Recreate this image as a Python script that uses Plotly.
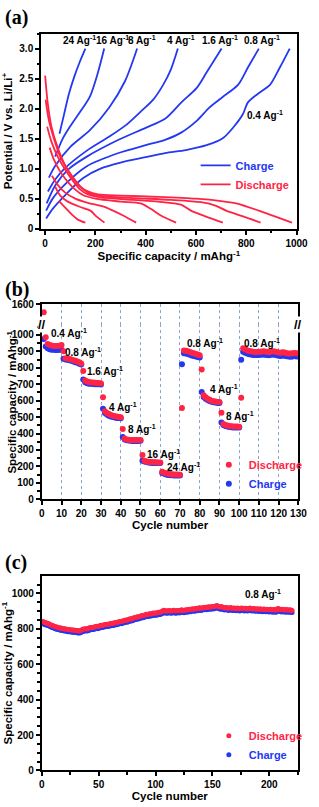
import plotly.graph_objects as go

BLUE = "#2438f2"
RED = "#ff2446"
FONT = "Liberation Sans"

# ---------------- (a) charge / discharge profiles ----------------
rate_labels = ["0.4", "0.8", "1.6", "4", "8", "16", "24"]

chg_x_0p4 = [4, 30, 80, 150, 220, 300, 400, 477, 560, 642, 705, 749, 787, 806, 844, 895, 933, 973]
chg_v_0p4 = [0.17, 0.33, 0.56, 0.84, 1.0, 1.1, 1.19, 1.26, 1.31, 1.39, 1.5, 1.69, 1.91, 2.1, 2.24, 2.4, 2.68, 3.0]
chg_x_0p8 = [4, 30, 80, 166, 292, 400, 477, 541, 604, 654, 705, 768, 806, 850]
chg_v_0p8 = [0.3, 0.5, 0.74, 1.04, 1.26, 1.39, 1.48, 1.6, 1.8, 2.02, 2.19, 2.4, 2.68, 3.0]
chg_x_1p6 = [6, 40, 90, 166, 292, 400, 477, 541, 604, 642, 702]
chg_v_1p6 = [0.42, 0.72, 0.98, 1.2, 1.48, 1.68, 1.83, 2.1, 2.35, 2.6, 3.0]
chg_x_4 = [11, 40, 77, 166, 254, 320, 380, 430, 470, 500, 528]
chg_v_4 = [0.62, 0.82, 1.0, 1.3, 1.53, 1.72, 1.95, 2.15, 2.4, 2.65, 3.0]
chg_x_8 = [15, 39, 102, 178, 255, 318, 366]
chg_v_8 = [0.85, 1.04, 1.37, 1.64, 2.02, 2.46, 3.0]
chg_x_16 = [40, 70, 102, 140, 178, 210, 235]
chg_v_16 = [1.2, 1.5, 1.72, 1.95, 2.2, 2.6, 3.0]
chg_x_24 = [57, 75, 95, 115, 138, 160]
chg_v_24 = [1.58, 1.9, 2.25, 2.52, 2.78, 3.0]

dis_x_0p4 = [0, 10, 25, 50, 80, 110, 140, 170, 210, 300, 450, 600, 700, 760, 850, 930, 982]
dis_v_0p4 = [2.55, 2.1, 1.7, 1.35, 1.05, 0.85, 0.7, 0.62, 0.57, 0.55, 0.53, 0.5, 0.46, 0.42, 0.3, 0.18, 0.1]
dis_x_0p8 = [2, 15, 35, 60, 90, 120, 150, 180, 230, 350, 500, 620, 680, 720, 790, 857]
dis_v_0p8 = [2.15, 1.8, 1.5, 1.2, 0.98, 0.8, 0.66, 0.58, 0.54, 0.51, 0.48, 0.44, 0.38, 0.3, 0.2, 0.1]
dis_x_1p6 = [8, 25, 50, 80, 110, 140, 170, 220, 350, 450, 540, 580, 640, 707]
dis_v_1p6 = [1.7, 1.45, 1.2, 0.98, 0.8, 0.65, 0.57, 0.52, 0.48, 0.45, 0.4, 0.3, 0.2, 0.1]
dis_x_4 = [18, 35, 60, 90, 120, 150, 200, 300, 380, 420, 460, 521]
dis_v_4 = [1.35, 1.15, 0.95, 0.78, 0.65, 0.56, 0.5, 0.45, 0.42, 0.33, 0.22, 0.1]
dis_x_8 = [27, 50, 80, 120, 170, 230, 270, 310, 362]
dis_v_8 = [0.88, 0.73, 0.6, 0.5, 0.43, 0.37, 0.3, 0.22, 0.1]
dis_x_16 = [40, 60, 90, 140, 180, 205, 236]
dis_v_16 = [0.7, 0.55, 0.45, 0.36, 0.3, 0.2, 0.1]
dis_x_24 = [55, 80, 110, 130, 160]
dis_v_24 = [0.46, 0.35, 0.22, 0.15, 0.1]

label_a_x = [874, 861, 694, 542, 385, 268, 138]
label_a_v = [1.90, 3.14, 3.14, 3.14, 3.14, 3.14, 3.14]

# ---------------- (b) rate capability ----------------
cycles_b = list(range(1, 131))
dis_b = [1540,
         985, 945, 938, 935, 933, 932, 932, 934, 938,
         900, 858, 856, 853, 850, 846, 842, 838, 833, 826,
         780, 722, 716, 713, 711, 710, 709, 708, 707, 704,
         620, 535, 525, 518, 512, 508, 505, 503, 501, 499,
         428, 370, 364, 362, 361, 360, 360, 360, 360, 361,
         270, 234, 230, 228, 227, 226, 225, 225, 224, 224,
         168, 162, 158, 155, 154, 152, 151, 150, 150, 149,
         555, 905, 903, 900, 896, 892, 888, 884, 880, 876,
         790, 632, 620, 612, 605, 600, 596, 594, 592, 591,
         527, 458, 452, 448, 446, 444, 443, 442, 442, 441,
         618, 918, 912, 906, 902, 900, 898, 896, 896, 897,
         898, 900, 899, 897, 895, 898, 900, 899, 896, 893,
         892, 895, 893, 889, 887, 886, 888, 890, 888, 887]
chg_b = [975,
         930, 918, 912, 910, 909, 908, 908, 909, 910,
         855, 850, 848, 845, 842, 838, 834, 830, 825, 820,
         728, 712, 706, 703, 702, 701, 700, 700, 699, 698,
         550, 525, 515, 508, 503, 500, 497, 495, 494, 493,
         378, 364, 359, 357, 356, 355, 355, 355, 355, 356,
         235, 229, 226, 224, 222, 221, 221, 220, 220, 220,
         160, 155, 150, 147, 146, 146, 145, 145, 145, 145,
         822, 888, 886, 883, 879, 875, 871, 868, 865, 862,
         652, 622, 612, 604, 598, 593, 590, 588, 586, 585,
         467, 452, 446, 442, 440, 438, 437, 437, 437, 436,
         848, 898, 892, 886, 882, 880, 878, 877, 877, 878,
         879, 880, 879, 877, 876, 879, 880, 879, 876, 873,
         872, 875, 873, 870, 868, 867, 869, 871, 869, 868]
label_b_text = ["0.4", "0.8", "1.6", "4", "8", "16", "24", "0.8", "4", "8", "0.8"]
label_b_x = [3.5, 10.8, 21.9, 33, 42.5, 52.5, 62.5, 72.5, 84.2, 92.3, 101.4]
label_b_y = [1012, 898, 783, 563, 427, 278, 194, 952, 673, 509, 952]

# ---------------- (c) long cycling ----------------
dis_c = [842, 838, 836, 833, 832, 829, 826, 822, 820, 818,
         815, 812, 810, 809, 806, 805, 804, 802, 801, 800,
         799, 798, 796, 796, 795, 794, 793, 793, 792, 791,
         790, 789, 788, 790, 794, 797, 799, 800, 801, 799,
         803, 806, 807, 808, 808, 810, 812, 814, 813, 815,
         817, 820, 819, 821, 823, 824, 826, 825, 827, 829,
         830, 832, 831, 834, 836, 835, 838, 840, 842, 841,
         844, 846, 848, 850, 849, 852, 855, 857, 856, 859,
         862, 864, 866, 868, 867, 870, 873, 875, 874, 877,
         880, 882, 881, 883, 885, 884, 887, 889, 888, 890,
         889, 892, 894, 893, 896, 899, 905, 903, 901, 900,
         902, 904, 901, 900, 903, 905, 902, 900, 903, 904,
         902, 905, 907, 904, 903, 906, 908, 906, 909, 911,
         909, 912, 914, 911, 913, 916, 914, 917, 919, 916,
         918, 921, 919, 922, 920, 923, 925, 922, 924, 926,
         924, 927, 929, 932, 928, 925, 923, 926, 922, 920,
         918, 921, 919, 916, 918, 920, 917, 915, 918, 916,
         914, 917, 915, 913, 916, 918, 915, 913, 916, 914,
         912, 915, 917, 914, 912, 915, 913, 911, 914, 912,
         910, 913, 911, 909, 912, 910, 908, 911, 909, 907,
         910, 908, 906, 909, 907, 905, 913, 915, 911, 909,
         907, 910, 908, 906, 909, 907, 905, 908, 906, 904]
chg_c = [830, 826, 823, 821, 820, 817, 814, 811, 808, 806,
         803, 801, 798, 797, 795, 793, 792, 790, 789, 788,
         787, 786, 784, 784, 783, 782, 781, 781, 780, 779,
         778, 777, 776, 778, 782, 785, 787, 788, 789, 788,
         791, 794, 795, 796, 796, 798, 800, 802, 801, 803,
         805, 808, 807, 809, 811, 812, 814, 813, 815, 817,
         818, 820, 819, 822, 824, 823, 826, 828, 830, 829,
         832, 834, 836, 838, 837, 840, 843, 845, 844, 847,
         850, 852, 854, 856, 855, 858, 861, 863, 862, 865,
         868, 870, 869, 871, 873, 872, 875, 877, 876, 878,
         877, 880, 882, 881, 884, 887, 893, 891, 889, 888,
         890, 892, 889, 888, 891, 893, 890, 888, 891, 892,
         890, 893, 895, 892, 891, 894, 896, 894, 897, 899,
         897, 900, 902, 899, 901, 904, 902, 905, 907, 904,
         906, 909, 907, 910, 908, 911, 913, 910, 912, 914,
         912, 915, 917, 919, 916, 913, 911, 914, 910, 908,
         906, 909, 907, 904, 906, 908, 905, 903, 906, 904,
         902, 905, 903, 901, 904, 906, 903, 901, 904, 902,
         900, 903, 905, 902, 900, 903, 901, 899, 902, 900,
         898, 901, 899, 897, 900, 898, 896, 899, 897, 895,
         898, 896, 894, 897, 895, 893, 900, 902, 899, 897,
         895, 898, 896, 894, 897, 895, 893, 896, 894, 892]
cycles_c = list(range(1, len(dis_c) + 1))

# ---------------- figure ----------------
W, H = 319, 807
def px(v):
    return v / W
def py(v):
    return 1 - v / H
def bold(vals):
    return ["<b>%s</b>" % v for v in vals]

fig = go.Figure()

chg_sets = [(chg_x_0p4, chg_v_0p4), (chg_x_0p8, chg_v_0p8), (chg_x_1p6, chg_v_1p6),
            (chg_x_4, chg_v_4), (chg_x_8, chg_v_8), (chg_x_16, chg_v_16), (chg_x_24, chg_v_24)]
dis_sets = [(dis_x_0p4, dis_v_0p4), (dis_x_0p8, dis_v_0p8), (dis_x_1p6, dis_v_1p6),
            (dis_x_4, dis_v_4), (dis_x_8, dis_v_8), (dis_x_16, dis_v_16), (dis_x_24, dis_v_24)]

for i, (xs, vs) in enumerate(chg_sets):
    fig.add_trace(go.Scatter(x=xs, y=vs, mode="lines", xaxis="x", yaxis="y",
                             line=dict(color=BLUE, width=1.8, shape="spline", smoothing=0.8),
                             name="<b><span style='color:%s'>Charge</span></b>" % BLUE,
                             legendgroup="ch", showlegend=(i == 0), legend="legend"))
for i, (xs, vs) in enumerate(dis_sets):
    fig.add_trace(go.Scatter(x=xs, y=vs, mode="lines", xaxis="x", yaxis="y",
                             line=dict(color=RED, width=1.8, shape="spline", smoothing=0.8),
                             name="<b><span style='color:%s'>Discharge</span></b>" % RED,
                             legendgroup="dis", showlegend=(i == 0), legend="legend"))

# (b): split points between the lower axis and the upper (broken) axis
BREAK = 1065
lo_c = [(c, v) for c, v in zip(cycles_b, chg_b) if v < BREAK]
lo_d = [(c, v) for c, v in zip(cycles_b, dis_b) if v < BREAK]
hi_d = [(c, v) for c, v in zip(cycles_b, dis_b) if v >= BREAK]

fig.add_trace(go.Scatter(x=[p[0] for p in lo_c], y=[p[1] for p in lo_c], mode="markers",
                         xaxis="x2", yaxis="y2", marker=dict(color=BLUE, size=6),
                         name="<b><span style='color:%s'>Charge</span></b>" % BLUE,
                         legend="legend2", legendrank=2))
fig.add_trace(go.Scatter(x=[p[0] for p in lo_d], y=[p[1] for p in lo_d], mode="markers",
                         xaxis="x2", yaxis="y2", marker=dict(color=RED, size=6),
                         name="<b><span style='color:%s'>Discharge</span></b>" % RED,
                         legend="legend2", legendrank=1))
fig.add_trace(go.Scatter(x=[p[0] for p in hi_d], y=[p[1] for p in hi_d], mode="markers",
                         xaxis="x3", yaxis="y3", marker=dict(color=RED, size=6),
                         showlegend=False))

# (c)
fig.add_trace(go.Scatter(x=cycles_c, y=chg_c, mode="markers", xaxis="x4", yaxis="y4",
                         marker=dict(color=BLUE, size=5),
                         name="<b><span style='color:%s'>Charge</span></b>" % BLUE,
                         legend="legend3", legendrank=2))
fig.add_trace(go.Scatter(x=cycles_c, y=dis_c, mode="markers", xaxis="x4", yaxis="y4",
                         marker=dict(color=RED, size=5),
                         name="<b><span style='color:%s'>Discharge</span></b>" % RED,
                         legend="legend3", legendrank=1))

tickf = dict(family=FONT, size=10, color="black")
titlef = dict(family=FONT, size=11.5, color="black")

def ax(**kw):
    base = dict(showline=True, linecolor="black", linewidth=1.8, ticks="outside",
                ticklen=4, tickwidth=1.5, tickcolor="black", tickfont=tickf,
                showgrid=False, zeroline=False, fixedrange=True)
    base.update(kw)
    return base

dom_a = [px(40), px(308)]
dom_b = [px(40.7), px(310)]
dom_c = [px(40.7), px(309.3)]

va = [0, 200, 400, 600, 800, 1000]
vya = [0, 0.5, 1.0, 1.5, 2.0, 2.5, 3.0]
vb = list(range(0, 131, 10))
vyb = list(range(0, 1001, 100))
vc = [0, 50, 100, 150, 200]
vyc = [0, 200, 400, 600, 800, 1000]

fig.update_layout(
    width=W, height=H, autosize=False,
    margin=dict(l=0, r=0, t=0, b=0),
    paper_bgcolor="white", plot_bgcolor="white",
    font=dict(family=FONT, color="black"),
    # (a)
    xaxis=ax(domain=dom_a, anchor="y", range=[-16, 1000], tickvals=va, ticktext=bold(va),
             minor=dict(tickvals=[100, 300, 500, 700, 900], ticks="outside", ticklen=2.5, tickcolor="black"),
             mirror=True, title=dict(text="<b>Specific capacity / mAhg<sup>-1</sup></b>", font=titlef, standoff=3)),
    yaxis=ax(domain=[py(226), py(28)], anchor="x", range=[0, 3.25],
             tickvals=vya, ticktext=bold(["0", "0.5", "1.0", "1.5", "2.0", "2.5", "3.0"]),
             minor=dict(tickvals=[0.25, 0.75, 1.25, 1.75, 2.25, 2.75, 3.25], ticks="outside", ticklen=2.5, tickcolor="black"),
             mirror=True, title=dict(text="<b>Potential / V vs. Li/Li<sup>+</sup></b>", font=titlef, standoff=4)),
    # (b) lower
    xaxis2=ax(domain=dom_b, anchor="y2", range=[0, 130], tickvals=vb, ticktext=bold(vb),
              showgrid=True, gridcolor="#8fa6c8", griddash="dot", gridwidth=1,
              title=dict(text="<b>Cycle number</b>", font=titlef, standoff=3)),
    yaxis2=ax(domain=[py(500.7), py(323)], anchor="x2", range=[0, BREAK],
              tickvals=vyb, ticktext=bold(vyb),
              minor=dict(tickvals=list(range(50, 1051, 100)), ticks="outside", ticklen=2.5, tickcolor="black"),
              mirror=True),
    # (b) upper (broken)
    xaxis3=ax(domain=dom_b, anchor="y3", matches="x2", side="top", ticks="", showticklabels=False,
              tickvals=vb, showgrid=True, gridcolor="#8fa6c8", griddash="dot", gridwidth=1),
    yaxis3=ax(domain=[py(323), py(303)], anchor="x3", range=[1450, 1600], tickvals=[1600],
              ticktext=bold([1600]), mirror=True),
    # (c)
    xaxis4=ax(domain=dom_c, anchor="y4", range=[0, 225], tickvals=vc, ticktext=bold(vc),
              minor=dict(tickvals=[25, 75, 125, 175, 225], ticks="outside", ticklen=2.5, tickcolor="black"),
              mirror=True, title=dict(text="<b>Cycle number</b>", font=titlef, standoff=3)),
    yaxis4=ax(domain=[py(776), py(578.3)], anchor="x4", range=[0, 1100],
              tickvals=vyc, ticktext=bold(vyc),
              minor=dict(tickvals=list(range(50, 1100, 50)), ticks="outside", ticklen=2.5, tickcolor="black"),
              mirror=True, title=dict(text="<b>Specific capacity / mAhg<sup>-1</sup></b>", font=titlef, standoff=4)),
    legend=dict(x=px(306), xanchor="right", y=py(147), yanchor="top", bgcolor="rgba(0,0,0,0)",
                font=dict(family=FONT, size=11), itemwidth=30, tracegroupgap=0),
    legend2=dict(x=px(216), xanchor="left", y=py(451), yanchor="top", bgcolor="rgba(0,0,0,0)",
                 font=dict(family=FONT, size=11), itemwidth=30),
    legend3=dict(x=px(216), xanchor="left", y=py(726), yanchor="top", bgcolor="rgba(0,0,0,0)",
                 font=dict(family=FONT, size=11), itemwidth=30),
)

ann = []
labf = dict(family=FONT, size=10, color="black")
for t, x, v in zip(rate_labels, label_a_x, label_a_v):
    ann.append(dict(x=x, y=v, xref="x", yref="y", text="<b>%s Ag<sup>-1</sup></b>" % t,
                    showarrow=False, font=labf, xanchor="center", yanchor="middle"))
for t, x, v in zip(label_b_text, label_b_x, label_b_y):
    ann.append(dict(x=x, y=v, xref="x2", yref="y2", text="<b>%s Ag<sup>-1</sup></b>" % t,
                    showarrow=False, font=labf, xanchor="left", yanchor="middle"))
ann.append(dict(x=177, y=996, xref="x4", yref="y4", text="<b>0.8 Ag<sup>-1</sup></b>",
                showarrow=False, font=labf, xanchor="left", yanchor="middle"))
# y title for (b), spanning the broken axis
ann.append(dict(x=px(9), y=py(402), xref="paper", yref="paper",
                text="<b>Specific capacity / mAhg<sup>-1</sup></b>",
                showarrow=False, textangle=-90, font=titlef, xanchor="center", yanchor="middle"))
# axis break marks
for xb in (dom_b[0], dom_b[1]):
    ann.append(dict(x=xb, y=py(323), xref="paper", yref="paper", text="<b>//</b>", showarrow=False,
                    font=dict(family=FONT, size=13, color="black"),
                    bgcolor="white", borderpad=0, xanchor="center", yanchor="middle"))
# panel labels
for t, yy in (("(a)", 12), ("(b)", 288), ("(c)", 565)):
    ann.append(dict(x=0, y=py(yy), xref="paper", yref="paper", text="<b>%s</b>" % t, showarrow=False,
                    font=dict(family="Liberation Serif", size=20, color="black"),
                    xanchor="left", yanchor="middle"))
fig.update_layout(annotations=ann)

fig.write_html("out.html", config={"displayModeBar": False},
               post_script="document.body.style.margin='0';")
